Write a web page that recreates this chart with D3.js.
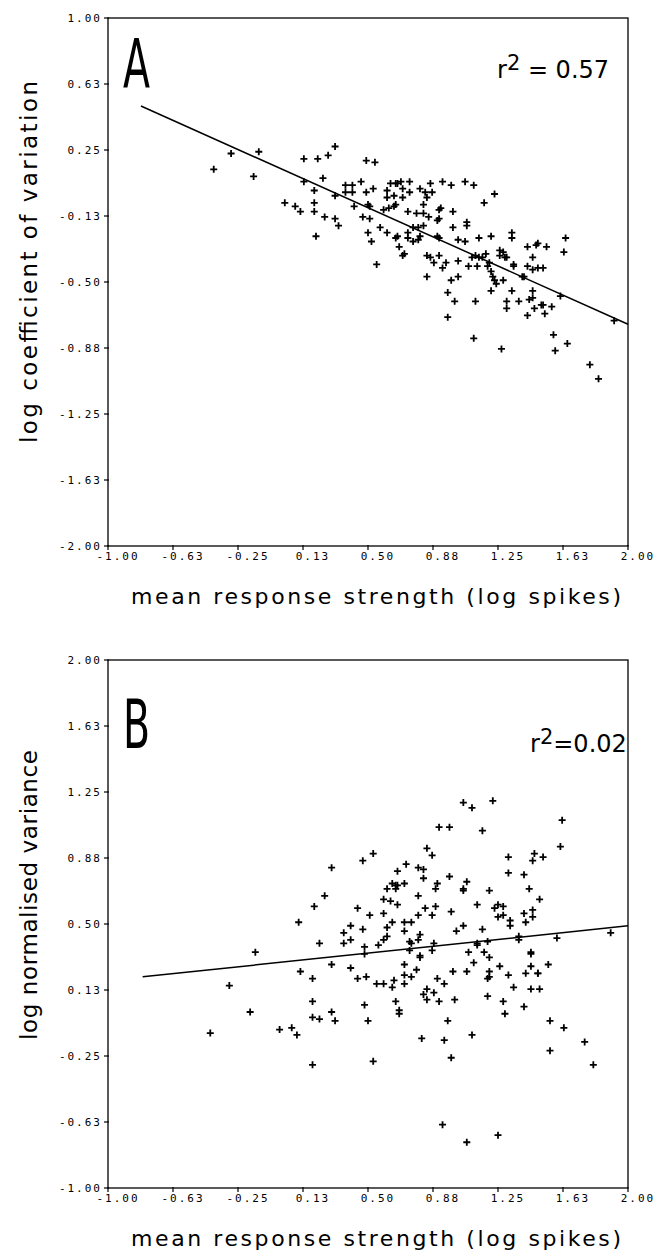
<!DOCTYPE html>
<html><head><meta charset="utf-8">
<script src="https://cdn.jsdelivr.net/npm/d3@7"></script>
<style>
html,body{margin:0;padding:0;background:#fff;}
svg{display:block;}
</style></head>
<body>
<script>
// ---------- DATA ----------
const xTickValues = [-1, -0.625, -0.25, 0.125, 0.5, 0.875, 1.25, 1.625, 2];
const xTickLabels = ["-1.00","-0.63","-0.25","0.13","0.50","0.88","1.25","1.63","2.00"];
const yTickValuesA = [1, 0.625, 0.25, -0.125, -0.5, -0.875, -1.25, -1.625, -2];
const yTickLabelsA = ["1.00","0.63","0.25","-0.13","-0.50","-0.88","-1.25","-1.63","-2.00"];
const yTickValuesB = [2, 1.625, 1.25, 0.875, 0.5, 0.125, -0.25, -0.625, -1];
const yTickLabelsB = ["2.00","1.63","1.25","0.88","0.50","0.13","-0.25","-0.63","-1.00"];

const xLabel = "mean response strength (log spikes)";
const yLabelA = "log coefficient of variation";
const yLabelB = "log normalised variance";
const r2A = "0.57";
const r2B = "0.02";

// regression line end points [x, y]
const fitA = [[-0.81, 0.50], [2.0, -0.74]];
const fitB = [[-0.80, 0.20], [2.0, 0.49]];

// panel A: [mean response strength, log CV]
const pointsA = [
[-0.39,0.14],[-0.29,0.23],[-0.13,0.24],[-0.16,0.10],[0.31,0.27],[0.13,0.20],[0.21,0.20],[0.27,0.22],[0.49,0.19],[0.54,0.18],
[0.13,0.07],[0.24,0.09],[0.19,0.02],[0.31,-0.01],[0.37,0.05],[0.41,0.05],[0.37,0.01],[0.41,0.01],[0.46,0.07],[0.49,0.01],
[0.53,0.03],[0.02,-0.05],[0.08,-0.07],[0.11,-0.10],[0.19,-0.05],[0.19,-0.10],[0.25,-0.13],[0.31,-0.14],[0.33,-0.18],[0.20,-0.24],
[0.42,-0.07],[0.47,-0.13],[0.51,-0.14],[0.50,-0.06],[0.51,-0.07],[0.50,-0.22],[0.52,-0.27],[0.57,-0.19],[0.61,-0.22],[0.55,-0.40],
[0.59,-0.09],[0.63,0.06],[0.67,0.06],[0.61,0.02],[0.65,-0.01],[0.61,-0.02],[0.62,-0.08],[0.65,-0.07],[0.66,-0.06],[0.66,-0.25],
[0.67,-0.24],[0.68,-0.30],[0.66,0.06],[0.69,0.07],[0.74,0.07],[0.70,0.03],[0.74,0.01],[0.70,-0.02],[0.86,0.06],[0.93,0.07],
[0.98,0.05],[1.06,0.07],[1.11,0.05],[1.23,0.00],[1.17,-0.05],[0.80,0.03],[0.83,0.01],[0.87,0.01],[0.84,-0.02],[0.82,-0.06],
[0.92,-0.08],[0.91,-0.09],[0.99,-0.10],[0.73,-0.10],[0.78,-0.11],[0.82,-0.11],[0.85,-0.13],[0.91,-0.14],[0.90,-0.15],[1.07,-0.16],
[1.07,-0.18],[0.99,-0.19],[0.73,-0.22],[0.76,-0.19],[0.79,-0.19],[0.82,-0.18],[0.73,-0.25],[0.76,-0.27],[0.79,-0.26],[0.80,-0.24],
[0.90,-0.24],[0.91,-0.25],[1.02,-0.26],[1.06,-0.27],[1.14,-0.25],[1.21,-0.24],[1.33,-0.22],[1.33,-0.25],[1.64,-0.25],[1.63,-0.33],
[1.42,-0.30],[1.47,-0.29],[1.48,-0.28],[1.53,-0.30],[0.71,-0.34],[0.70,-0.35],[0.84,-0.35],[0.86,-0.36],[0.88,-0.39],[0.91,-0.35],
[0.95,-0.39],[1.02,-0.38],[0.93,-0.42],[1.10,-0.36],[1.12,-0.35],[1.14,-0.36],[1.16,-0.36],[1.18,-0.34],[1.20,-0.39],[1.08,-0.41],
[1.13,-0.41],[1.19,-0.41],[1.26,-0.32],[1.28,-0.33],[1.29,-0.36],[1.30,-0.36],[1.26,-0.35],[1.34,-0.40],[1.34,-0.41],[1.45,-0.36],
[1.42,-0.41],[1.45,-0.43],[1.48,-0.42],[1.51,-0.42],[1.39,-0.47],[1.40,-0.47],[1.21,-0.44],[1.22,-0.47],[1.23,-0.49],[1.24,-0.51],
[1.28,-0.49],[0.84,-0.47],[1.02,-0.47],[0.98,-0.49],[0.96,-0.56],[1.00,-0.61],[1.12,-0.61],[1.21,-0.55],[1.33,-0.55],[1.30,-0.61],
[1.37,-0.61],[1.45,-0.55],[1.45,-0.59],[1.43,-0.60],[1.50,-0.63],[1.51,-0.63],[1.56,-0.64],[1.61,-0.58],[1.30,-0.65],[1.46,-0.65],
[1.42,-0.69],[1.52,-0.68],[0.96,-0.70],[1.11,-0.82],[1.27,-0.88],[1.57,-0.80],[1.65,-0.85],[1.58,-0.89],[1.78,-0.97],[1.83,-1.05],
[1.92,-0.72]
];

// panel B: [mean response strength, log normalised variance]
const pointsB = [
[-0.15,0.34],[0.10,0.51],[0.22,0.39],[0.19,0.60],[0.25,0.66],[0.29,0.82],[0.47,0.86],[0.53,0.90],[0.44,0.59],[0.51,0.55],
[0.40,0.49],[0.36,0.45],[0.47,0.47],[0.40,0.41],[0.36,0.39],[0.48,0.37],[0.48,0.33],[0.56,0.38],[0.59,0.56],[0.59,0.64],
[0.63,0.63],[0.67,0.61],[0.61,0.70],[0.64,0.73],[0.66,0.72],[0.67,0.72],[0.71,0.73],[0.67,0.80],[0.72,0.84],[0.64,0.51],
[0.61,0.48],[0.59,0.41],[0.61,0.43],[0.71,0.51],[0.71,0.46],[0.74,0.40],[1.05,1.19],[1.10,1.16],[1.22,1.20],[1.62,1.09],
[0.91,1.05],[0.97,1.05],[1.16,1.03],[0.84,0.93],[0.87,0.89],[1.61,0.94],[1.46,0.90],[1.45,0.86],[1.51,0.88],[1.31,0.88],
[1.31,0.79],[1.40,0.78],[0.79,0.82],[0.82,0.81],[0.82,0.76],[0.97,0.77],[1.07,0.74],[0.90,0.73],[0.89,0.70],[0.66,0.70],
[1.05,0.70],[1.05,0.69],[1.20,0.69],[1.43,0.70],[1.49,0.64],[0.79,0.66],[0.89,0.60],[1.13,0.61],[1.25,0.61],[1.28,0.60],
[1.23,0.59],[0.83,0.59],[0.98,0.57],[0.79,0.55],[0.87,0.55],[1.25,0.54],[1.28,0.55],[1.32,0.52],[1.32,0.49],[1.40,0.56],
[1.45,0.58],[1.45,0.54],[1.41,0.51],[0.75,0.51],[1.05,0.49],[1.01,0.46],[1.16,0.47],[0.80,0.44],[0.79,0.41],[0.75,0.39],
[0.88,0.39],[0.87,0.35],[1.13,0.39],[1.13,0.38],[1.19,0.40],[1.37,0.43],[1.37,0.41],[1.59,0.42],[1.90,0.45],[0.74,0.35],
[0.80,0.32],[0.80,0.31],[1.08,0.34],[1.17,0.34],[1.20,0.31],[1.44,0.34],[-0.30,0.15],[-0.41,-0.12],[-0.18,0.00],[-0.01,-0.10],
[0.06,-0.09],[0.09,-0.13],[0.11,0.23],[0.18,0.19],[0.18,0.06],[0.18,-0.03],[0.22,-0.04],[0.18,-0.30],[0.29,0.27],[0.29,0.00],
[0.31,-0.05],[0.40,0.25],[0.44,0.19],[0.49,0.20],[0.48,0.04],[0.50,-0.05],[0.53,-0.28],[0.55,0.16],[0.59,0.16],[0.64,0.14],
[0.65,0.18],[0.71,0.27],[0.71,0.21],[0.75,0.20],[0.71,0.16],[0.78,0.24],[0.66,0.06],[0.68,0.01],[0.68,-0.01],[0.81,-0.15],
[0.84,0.13],[0.82,0.10],[0.84,0.07],[0.88,0.11],[0.90,0.19],[0.94,0.16],[0.91,0.06],[0.96,-0.05],[0.94,-0.16],[0.98,-0.26],
[0.99,0.23],[1.07,0.23],[1.11,0.28],[1.00,0.07],[1.10,-0.13],[1.19,0.09],[1.20,0.23],[1.20,0.20],[1.19,0.19],[1.26,0.26],
[1.31,0.21],[1.28,0.06],[1.29,-0.01],[1.34,0.14],[1.40,0.03],[1.41,0.22],[1.44,0.26],[1.44,0.33],[1.48,0.22],[1.48,0.22],
[1.44,0.13],[1.49,0.13],[1.54,0.27],[1.55,-0.05],[1.63,-0.09],[1.55,-0.22],[1.75,-0.17],[1.80,-0.30],[0.93,-0.64],[1.07,-0.74],
[1.25,-0.70]
];

// ---------- DRAWING ----------
const W = 662, H = 1251;
const svg = d3.select("body").append("svg").attr("width", W).attr("height", H)
  .style("font-family", "'DejaVu Sans', sans-serif");

function drawPanel(o) {
  const x = d3.scaleLinear().domain([-1, 2]).range([o.left, o.right]);
  const y = d3.scaleLinear().domain(o.yDomain).range([o.bottom, o.top]);
  const g = svg.append("g");

  // frame
  g.append("rect").attr("x", o.left).attr("y", o.top)
    .attr("width", o.right - o.left).attr("height", o.bottom - o.top)
    .attr("fill", "none").attr("stroke", "#000").attr("stroke-width", 1.3);

  // y ticks
  g.selectAll(".yt").data(o.yTicks).enter().append("line")
    .attr("x1", o.left - 4).attr("x2", o.left + 1)
    .attr("y1", d => y(d)).attr("y2", d => y(d))
    .attr("stroke", "#000").attr("stroke-width", 1.2);
  g.selectAll(".yl").data(o.yTicks).enter().append("text")
    .attr("x", o.left - 6).attr("y", d => y(d) + 4)
    .attr("text-anchor", "end")
    .style("font-family", "'DejaVu Sans Mono', monospace")
    .style("font-size", "11px").style("letter-spacing", "2px")
    .text((d, i) => o.yLabels[i]);

  // x ticks
  g.selectAll(".xt").data(xTickValues).enter().append("line")
    .attr("x1", d => x(d)).attr("x2", d => x(d))
    .attr("y1", o.bottom - 1).attr("y2", o.bottom + 4)
    .attr("stroke", "#000").attr("stroke-width", 1.2);
  g.selectAll(".xl").data(xTickValues).enter().append("text")
    .attr("x", d => x(d) + 10).attr("y", o.bottom + 14)
    .attr("text-anchor", "middle")
    .style("font-family", "'DejaVu Sans Mono', monospace")
    .style("font-size", "11px").style("letter-spacing", "2px")
    .text((d, i) => xTickLabels[i]);

  // regression line
  g.append("path").datum(o.fit)
    .attr("d", d3.line().x(d => x(d[0])).y(d => y(d[1])))
    .attr("fill", "none").attr("stroke", "#000").attr("stroke-width", 1.5);

  // points as "+"
  g.selectAll(".pt").data(o.points).enter().append("path")
    .attr("transform", d => `translate(${x(d[0])},${y(d[1])})`)
    .attr("d", "M-3.5,0H3.5M0,-3.5V3.5")
    .attr("stroke", "#000").attr("stroke-width", 1.8).attr("fill", "none");

  // panel letter
  g.append("text")
    .attr("transform", `translate(${o.left + 15},${o.letterY}) scale(0.58,1)`)
    .style("font-size", "68px")
    .text(o.letter);

  // r^2
  const t = g.append("text").attr("x", o.r2X).attr("y", o.r2Y).style("font-size", "24px");
  t.append("tspan").text("r");
  t.append("tspan").attr("dy", -8).style("font-size", "21px").text("2");
  t.append("tspan").attr("dy", 8).text(o.r2Sep + o.r2);

  // axis labels
  g.append("text")
    .attr("x", (o.left + o.right) / 2 + 8).attr("y", o.bottom + 58)
    .attr("text-anchor", "middle").style("font-size", "22px")
    .attr("textLength", 490).attr("lengthAdjust", "spacing")
    .text(xLabel);
  g.append("text")
    .attr("transform", `translate(37,${o.yLabelC}) rotate(-90)`)
    .attr("text-anchor", "middle").style("font-size", "23px")
    .attr("textLength", o.yLabelLen).attr("lengthAdjust", "spacing")
    .text(o.yLabel);
}

drawPanel({
  left: 108, right: 628, top: 18, bottom: 546,
  yDomain: [-2, 1], yTicks: yTickValuesA, yLabels: yTickLabelsA,
  fit: fitA, points: pointsA, letter: "A", letterY: 88,
  r2: r2A, r2Sep: " = ", r2X: 497, r2Y: 78,
  yLabel: yLabelA, yLabelC: 262, yLabelLen: 362
});
drawPanel({
  left: 108, right: 628, top: 660, bottom: 1188,
  yDomain: [-1, 2], yTicks: yTickValuesB, yLabels: yTickLabelsB,
  fit: fitB, points: pointsB, letter: "B", letterY: 748,
  r2: r2B, r2Sep: "=", r2X: 530, r2Y: 752,
  yLabel: yLabelB, yLabelC: 895, yLabelLen: 290
});
</script>
</body></html>
